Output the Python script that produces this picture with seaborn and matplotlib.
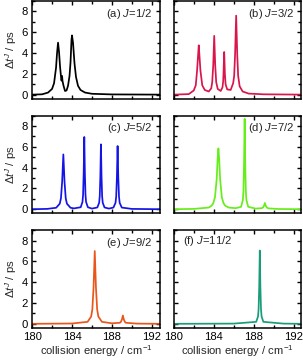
import numpy as np
import pandas as pd
import matplotlib
matplotlib.use("Agg")
import matplotlib.pyplot as plt
from matplotlib.ticker import MultipleLocator
import seaborn as sns

# time delay spectra, one panel per J
energy_a = [180.0, 181.0, 181.6, 182.0, 182.2, 182.4, 182.5, 182.6, 182.7, 182.8, 182.9,
            182.95, 183.0, 183.05, 183.15, 183.3, 183.45, 183.6, 183.75, 183.85, 183.95,
            184.0, 184.1, 184.25, 184.4, 184.6, 184.85, 185.3, 186.0, 188.0, 192.8]
dt_a = [0.0, 0.03, 0.2, 0.55, 1.1, 2.6, 4.0, 5.0, 4.1, 2.7, 1.7,
        1.35, 1.8, 1.3, 0.85, 0.35, 0.4, 0.85, 1.8, 3.1, 5.3,
        5.7, 5.0, 3.0, 1.7, 0.85, 0.45, 0.2, 0.08, 0.02, 0.0]

energy_b = [180.0, 181.5, 182.0, 182.2, 182.33, 182.42, 182.5, 182.58, 182.67, 182.85,
            183.1, 183.5, 183.75, 183.85, 183.95, 184.05, 184.15, 184.25, 184.4, 184.7,
            184.88, 184.95, 184.98, 185.05, 185.12, 185.19, 185.35, 185.7, 185.95, 186.05,
            186.14, 186.25, 186.36, 186.45, 186.6, 186.9, 187.5, 189.0, 192.8]
dt_b = [0.0, 0.05, 0.4, 0.9, 2.3, 3.6, 4.75, 3.6, 2.3, 0.9,
        0.45, 0.3, 0.6, 1.2, 2.8, 5.65, 2.8, 1.2, 0.55, 0.35,
        0.7, 1.3, 2.0, 4.1, 2.0, 1.0, 0.5, 0.45, 1.1, 1.8,
        3.8, 7.6, 3.8, 1.8, 0.8, 0.3, 0.1, 0.03, 0.0]

energy_c = [180.0, 181.5, 182.41, 182.77, 182.89, 183.01, 183.13, 183.25, 183.37, 183.49,
            183.85, 184.2, 184.87, 185.05, 185.11, 185.17, 185.23, 185.29, 185.35, 185.41,
            185.59, 186.0, 186.54, 186.72, 186.78, 186.84, 186.9, 186.96, 187.02, 187.08,
            187.26, 187.7, 188.15, 188.36, 188.43, 188.5, 188.57, 188.64, 188.71, 188.78,
            188.99, 190.0, 192.8]
dt_c = [0.0, 0.03, 0.14, 0.53, 1.05, 2.63, 5.27, 2.63, 1.05, 0.53,
        0.14, 0.08, 0.19, 0.7, 1.39, 3.48, 6.95, 3.48, 1.39, 0.7,
        0.19, 0.06, 0.17, 0.62, 1.25, 3.12, 6.24, 3.12, 1.25, 0.62,
        0.17, 0.06, 0.16, 0.61, 1.22, 3.04, 6.08, 3.04, 1.22, 0.61,
        0.16, 0.03, 0.0]

energy_d = [180.0, 182.0, 183.5, 183.79, 183.96, 184.13, 184.3, 184.39, 184.47, 184.55,
            184.64, 184.81, 184.98, 185.15, 185.5, 186.2, 186.74, 186.92, 186.98, 187.04,
            187.1, 187.16, 187.22, 187.28, 187.46, 188.2, 188.8, 188.93, 189.03, 189.13,
            189.23, 189.33, 189.5, 190.5, 192.8]
dt_d = [0.0, 0.03, 0.16, 0.34, 0.59, 1.17, 2.93, 4.8, 5.85, 4.8,
        2.93, 1.17, 0.59, 0.34, 0.16, 0.1, 0.23, 0.87, 1.74, 4.35,
        8.7, 4.35, 1.74, 0.87, 0.23, 0.06, 0.1, 0.15, 0.3, 0.6,
        0.3, 0.15, 0.08, 0.02, 0.0]

energy_e = [180.0, 184.0, 185.56, 185.92, 186.04, 186.16, 186.28, 186.4, 186.52, 186.64,
            187.0, 188.0, 188.8, 188.9, 189.0, 189.1, 189.2, 189.3, 189.4, 190.5, 192.8]
dt_e = [0.0, 0.03, 0.19, 0.7, 1.4, 3.5, 7.0, 3.5, 1.4, 0.7,
        0.19, 0.05, 0.1, 0.19, 0.4, 0.8, 0.4, 0.19, 0.1, 0.02, 0.0]

energy_f = [180.0, 186.0, 188.26, 188.44, 188.5, 188.56, 188.62, 188.68, 188.74, 188.8,
            188.98, 191.0, 192.8]
dt_f = [0.0, 0.02, 0.19, 0.7, 1.41, 3.5, 7.05, 3.5, 1.41, 0.7,
        0.19, 0.02, 0.0]

panel_labels = ["(a) $J$=1/2", "(b) $J$=3/2", "(c) $J$=5/2",
                "(d) $J$=7/2", "(e) $J$=9/2", "(f) $J$=11/2"]
colors = ["black", "#d8164c", "#1414e6", "#66ee1a", "#e9561c", "#1a9c7a"]

sns.set_theme(style="ticks")
plt.rcParams['font.family'] = ['Liberation Sans', 'DejaVu Sans']
plt.rcParams['mathtext.fontset'] = 'custom'
plt.rcParams['mathtext.rm'] = 'Liberation Sans'
plt.rcParams['mathtext.it'] = 'Liberation Sans:italic'
fs = 8.1

fig, axes = plt.subplots(3, 2, figsize=(3.03, 3.62), dpi=100)
fig.subplots_adjust(left=0.106, right=0.995, bottom=0.094, top=0.997,
                    wspace=0.11, hspace=0.173)

data = [(energy_a, dt_a), (energy_b, dt_b), (energy_c, dt_c),
        (energy_d, dt_d), (energy_e, dt_e), (energy_f, dt_f)]

for i, ax in enumerate(axes.flat):
    x, y = data[i]
    df = pd.DataFrame({"energy": x, "dt": y})
    sns.lineplot(data=df, x="energy", y="dt", ax=ax, color=colors[i],
                 lw=1.25, estimator=None, sort=False)
    ax.set_xlim(180, 192.8)
    ax.set_ylim(-0.4, 9.0)
    ax.xaxis.set_major_locator(MultipleLocator(4))
    ax.xaxis.set_minor_locator(MultipleLocator(2))
    ax.yaxis.set_major_locator(MultipleLocator(2))
    ax.yaxis.set_minor_locator(MultipleLocator(1))
    ax.tick_params(which="both", direction="in", top=True, right=True,
                   width=1.0, labelsize=fs, pad=3, colors="black")
    ax.tick_params(which="major", length=3)
    ax.tick_params(which="minor", length=2)
    for sp in ax.spines.values():
        sp.set_linewidth(1.1)
        sp.set_color("black")
    ax.set_xlabel("")
    ax.set_ylabel("")
    if i % 2 == 1:
        ax.set_yticklabels([])
    else:
        ax.set_ylabel(r"$\Delta t^J$ / ps", fontsize=fs, labelpad=2)
    if i < 4:
        ax.set_xticklabels([])
    else:
        ax.set_xlabel("collision energy / cm$^{-1}$", fontsize=fs, labelpad=1)
    if i == 5:
        ax.text(0.07, 0.89, panel_labels[i], transform=ax.transAxes,
                ha="left", va="center", fontsize=fs)
    else:
        ax.text(0.94, 0.87, panel_labels[i], transform=ax.transAxes,
                ha="right", va="center", fontsize=fs)

fig.savefig("out.png", dpi=100)
